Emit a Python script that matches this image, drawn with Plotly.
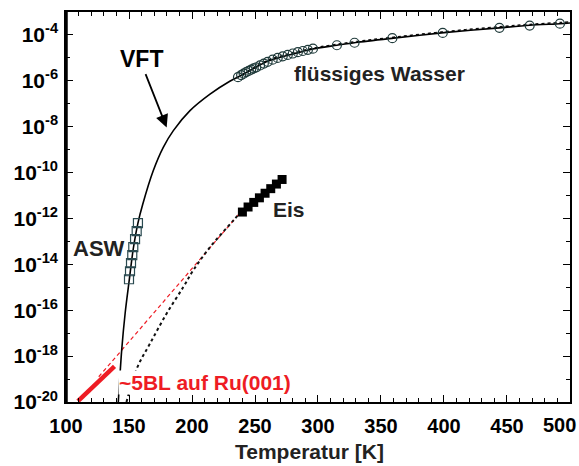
import plotly.graph_objects as go

# VFT fit curve (temperature in K, log10 of diffusivity)
vft_T = [141.5, 144.2, 147.0, 150.0, 153.4, 157.1, 160.8, 169.3, 177.2, 185.2, 198.4,
         214.3, 230.0, 237.0, 245.0, 250.0, 260.0, 280.0, 295.0, 315.0, 330.0, 360.0,
         400.0, 444.0, 468.0, 492.0, 500.0]
vft_logD = [-20.0, -17.74, -16.1, -14.77, -13.32, -12.2, -11.4, -9.91, -8.9, -8.17, -7.30,
            -6.58, -6.02, -5.82, -5.58, -5.43, -5.15, -4.83, -4.62, -4.45, -4.33, -4.14,
            -3.90, -3.69, -3.58, -3.51, -3.48]

# Second (dotted) fit, from the ice data down to low temperature
dot_T = [148.0, 156.1, 166.7, 179.9, 193.1, 201.0, 214.3, 232.8, 239.0]
dot_logD = [-20.0, -18.55, -17.45, -16.14, -14.99, -14.26, -13.25, -12.09, -11.7]

# Dotted fit in the liquid range
dotliq_T = [240.0, 260.0, 280.0, 300.0, 330.0, 360.0, 400.0, 444.0, 468.0, 492.0, 500.0]
dotliq_logD = [-5.74, -5.11, -4.78, -4.54, -4.29, -4.10, -3.86, -3.64, -3.54, -3.46, -3.43]

# Liquid water data
liq_T = [236.5, 239, 241, 243, 245, 247, 249, 251, 254, 257, 260, 264, 268, 272, 276,
         280, 284, 288, 292, 296, 315, 329, 359, 399, 444, 468, 492]
liq_logD = [-5.84, -5.75, -5.69, -5.62, -5.57, -5.51, -5.46, -5.41, -5.33, -5.25, -5.17,
            -5.08, -5.00, -4.93, -4.87, -4.81, -4.75, -4.70, -4.65, -4.60, -4.45, -4.34,
            -4.14, -3.91, -3.69, -3.59, -3.51]

# Amorphous solid water data
asw_T = [157.1, 156.1, 154.8, 153.4, 152.6, 151.6, 150.8, 150.0]
asw_logD = [-12.2, -12.55, -12.9, -13.25, -13.6, -13.95, -14.3, -14.65]

# Ice data
ice_T = [240.0, 244.5, 249.0, 253.5, 258.0, 262.5, 267.0, 271.5]
ice_logD = [-11.72, -11.5, -11.3, -11.1, -10.9, -10.7, -10.5, -10.3]

# Extrapolation from ice to low temperature (red dashed)
ext_T = [126.0, 239.0]
ext_logD = [-18.9, -11.7]

# ~5 bilayers on Ru(001)
ru_T = [109.5, 138.5]
ru_logD = [-19.96, -18.45]

y_ticks = [-4, -6, -8, -10, -12, -14, -16, -18, -20]
x_ticks = [100, 150, 200, 250, 300, 350, 400, 450, 500]
# the last label is placed separately so it stays inside the page
x_ticktext = [str(v) for v in x_ticks[:-1]] + [""]

def p10(v):
    return [10 ** x for x in v]

FONT = "Liberation Sans, Arial, sans-serif"
RED = "#ee1c24"

fig = go.Figure()
fig.add_trace(go.Scatter(x=ext_T, y=p10(ext_logD), mode="lines",
                         line=dict(color=RED, width=1.2, dash="4px,3px")))
fig.add_trace(go.Scatter(x=dot_T, y=p10(dot_logD), mode="lines",
                         line=dict(color="#111", width=2, dash="dot", shape="spline")))
fig.add_trace(go.Scatter(x=dotliq_T, y=p10(dotliq_logD), mode="lines",
                         line=dict(color="#111", width=1.5, dash="dot", shape="spline")))
fig.add_trace(go.Scatter(x=vft_T, y=p10(vft_logD), mode="lines",
                         line=dict(color="black", width=1.6, shape="spline", smoothing=0.8)))
fig.add_trace(go.Scatter(x=liq_T, y=p10(liq_logD), mode="markers",
                         marker=dict(symbol="circle-open", size=9, color="#1f3a3a",
                                     line=dict(width=1.2))))
fig.add_trace(go.Scatter(x=asw_T, y=p10(asw_logD), mode="markers",
                         marker=dict(symbol="square-open", size=9, color="#2a4a50",
                                     line=dict(width=1.2))))
fig.add_trace(go.Scatter(x=ice_T, y=p10(ice_logD), mode="markers",
                         marker=dict(symbol="square", size=9, color="black")))
fig.add_trace(go.Scatter(x=ru_T, y=p10(ru_logD), mode="lines",
                         line=dict(color=RED, width=4.5)))

bold = dict(family=FONT, weight="bold")

fig.update_layout(
    width=579, height=466,
    margin=dict(l=66, r=9, t=12, b=64),
    paper_bgcolor="white", plot_bgcolor="white",
    showlegend=False,
    xaxis=dict(range=[100, 500.01], tickvals=x_ticks, ticktext=x_ticktext,
               ticks="inside", ticklen=7,
               tickwidth=1.3, tickcolor="black", showline=True, linecolor="black",
               linewidth=1.5, mirror="ticks", showgrid=False, zeroline=False,
               automargin=False, ticklabelstandoff=5,
               tickfont=dict(size=20, color="black", **bold),
               minor=dict(dtick=10, ticks="inside", ticklen=4, tickcolor="black",
                          showgrid=False)),
    yaxis=dict(type="log", range=[-20, -3], tickvals=p10(y_ticks),
               ticktext=["10<sup>%d</sup>" % v for v in y_ticks],
               ticks="inside", ticklen=7, tickwidth=1.3, tickcolor="black",
               showline=True, linecolor="black", linewidth=1.5, mirror="ticks",
               showgrid=False, zeroline=False, ticklabelstandoff=2, automargin=False,
               tickfont=dict(size=21, color="black", **bold),
               minor=dict(tickvals=p10([-3, -5, -7, -9, -11, -13, -15, -17, -19]),
                          ticks="inside", ticklen=4, tickcolor="black", showgrid=False)),
)

# heavier left axis
fig.add_shape(type="line", xref="paper", yref="paper", x0=0, x1=0, y0=0, y1=1,
              line=dict(color="black", width=3.5))

def label(text, x, y, size=21, color="#222", xanchor="center", bg=None, family=FONT):
    fig.add_annotation(text=text, x=x, y=y, xref="x", yref="y", showarrow=False,
                       xanchor=xanchor, yanchor="middle",
                       font=dict(family=family, size=size, color=color, weight="bold"),
                       bgcolor=bg, borderpad=0)

label("VFT", 160.3, -5.04, size=23, color="black",
      family="Liberation Sans Narrow, Arial Narrow, Liberation Sans, sans-serif")
label("flüssiges Wasser", 349.2, -5.70)
label("Eis", 263.5, -11.6, xanchor="left")
label("ASW", 126.2, -13.3, size=22)
label("~5BL auf Ru(001)", 141.3, -19.17, color=RED, xanchor="left", bg="white")

# arrow pointing at the VFT curve
fig.add_annotation(text="", x=179.9, y=-8.03, ax=162.7, ay=-5.64, xref="x", yref="y",
                   axref="x", ayref="y", showarrow=True, arrowhead=2, arrowsize=1.4,
                   arrowwidth=1.8, arrowcolor="black")

# label for the 500 K tick, kept inside the right edge
fig.add_annotation(text=str(x_ticks[-1]), x=x_ticks[-1], y=-0.058, xref="x", yref="paper",
                   showarrow=False, xanchor="right", yanchor="middle", xshift=8,
                   font=dict(family=FONT, size=20, color="black", weight="bold"))

fig.add_annotation(text="Temperatur [K]", x=0.484, y=-0.126, xref="paper", yref="paper",
                   showarrow=False, yanchor="middle",
                   font=dict(family=FONT, size=21, color="#222", weight="bold"))

fig.write_html("out.html")
